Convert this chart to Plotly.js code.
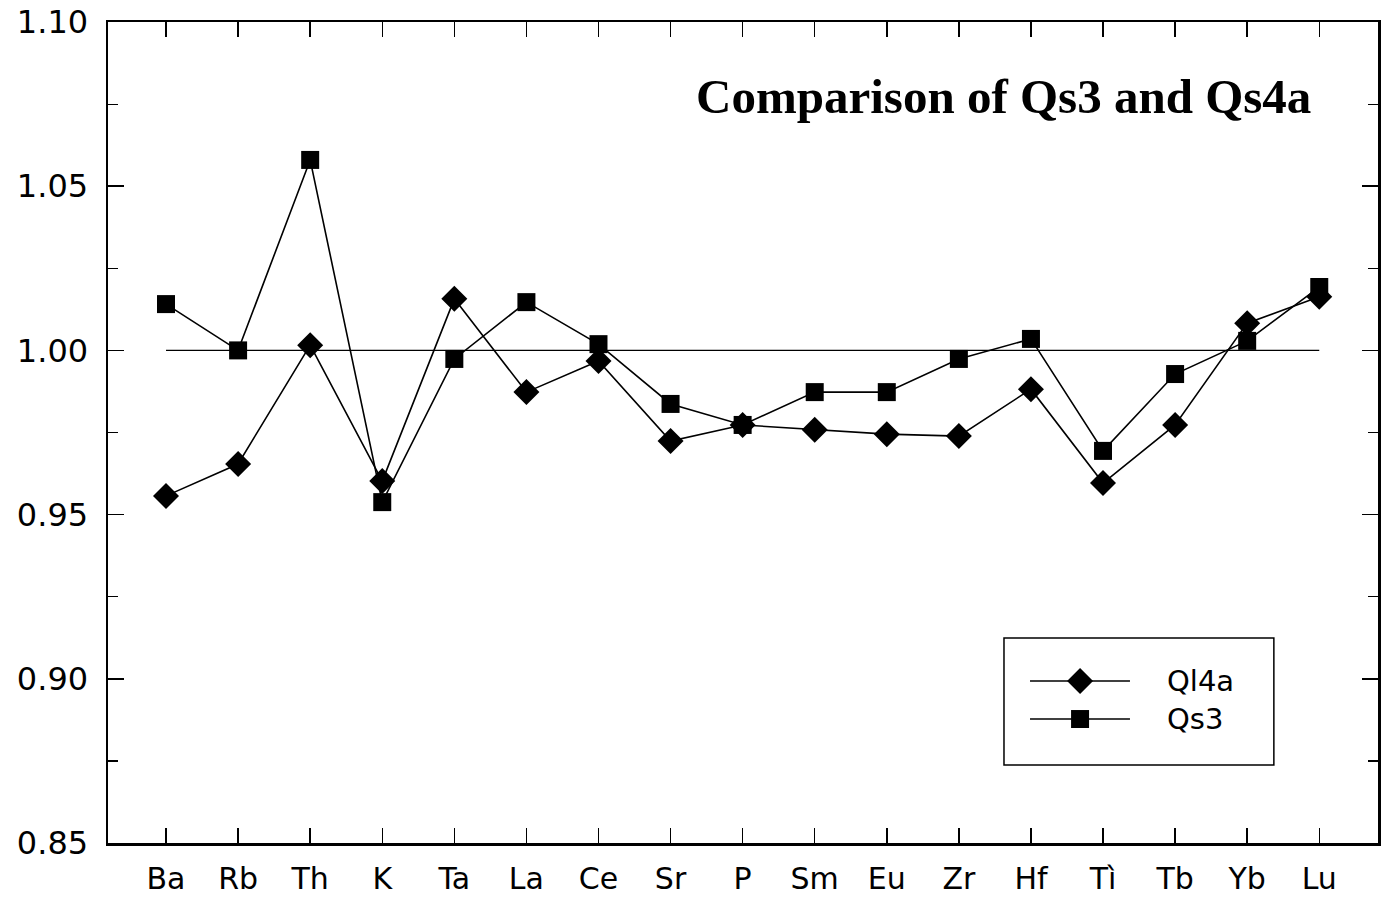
<!DOCTYPE html>
<html>
<head>
<meta charset="utf-8">
<script src="https://cdn.plot.ly/plotly-3.0.1.min.js"></script>
<style>
  html, body { margin: 0; padding: 0; background: #fff; }
  #chart { width: 1392px; height: 900px; }
</style>
</head>
<body>
<div id="chart"></div>
<script>
// Element order along the x axis
const elements = ['Ba', 'Rb', 'Th', 'K', 'Ta', 'La', 'Ce', 'Sr', 'P', 'Sm', 'Eu', 'Zr', 'Hf', 'Ti', 'Tb', 'Yb', 'Lu'];
// Displayed x tick labels (Ti carries a grave accent in the label)
const elementLabels = ['Ba', 'Rb', 'Th', 'K', 'Ta', 'La', 'Ce', 'Sr', 'P', 'Sm', 'Eu', 'Zr', 'Hf', 'Tì', 'Tb', 'Yb', 'Lu'];

// Ratio values per element
const ql4a = [0.9557, 0.9654, 1.0016, 0.9602, 1.0157, 0.9873, 0.9968, 0.9724, 0.9773, 0.9758, 0.9745, 0.9739, 0.9882, 0.9596, 0.9773, 1.0083, 1.0163];
const qs3  = [1.0141, 1.0000, 1.0580, 0.9538, 0.9974, 1.0147, 1.0019, 0.9837, 0.9773, 0.9873, 0.9873, 0.9974, 1.0035, 0.9694, 0.9928, 1.0029, 1.0193];

// Unity reference level
const unity = 1.0;

// Y axis labelled ticks
const yTickVals = [0.85, 0.90, 0.95, 1.00, 1.05, 1.10];
const yTickText = ['0.85', '0.90', '0.95', '1.00', '1.05', '1.10'];

const seriesNames = ['Ql4a', 'Qs3'];
const chartTitle = 'Comparison of Qs3 and Qs4a';

const black = '#000';
const xTickFont = { family: 'DejaVu Sans, sans-serif', size: 30, color: black };
const yTickFont = { family: 'DejaVu Sans, sans-serif', size: 32, color: black };

const traces = [
  {
    x: elements, y: elements.map(() => unity),
    type: 'scatter', mode: 'lines',
    line: { color: black, width: 1.3 },
    showlegend: false, hoverinfo: 'skip'
  },
  {
    x: elements, y: ql4a, name: seriesNames[0],
    type: 'scatter', mode: 'lines+markers',
    line: { color: black, width: 1.6 },
    marker: { symbol: 'diamond', size: 20, color: black },
    showlegend: false
  },
  {
    x: elements, y: qs3, name: seriesNames[1],
    type: 'scatter', mode: 'lines+markers',
    line: { color: black, width: 1.6 },
    marker: { symbol: 'square', size: 18, color: black },
    showlegend: false
  },
  // Key symbols, placed on an overlay axis spanning 0..1
  {
    x: [0.7654], y: [0.1973], xaxis: 'x2', yaxis: 'y2',
    type: 'scatter', mode: 'markers',
    marker: { symbol: 'diamond', size: 20, color: black },
    showlegend: false, hoverinfo: 'skip'
  },
  {
    x: [0.7654], y: [0.151], xaxis: 'x2', yaxis: 'y2',
    type: 'scatter', mode: 'markers',
    marker: { symbol: 'square', size: 18, color: black },
    showlegend: false, hoverinfo: 'skip'
  }
];

const layout = {
  width: 1392, height: 900,
  margin: { l: 108, r: 14, t: 22, b: 57 },
  paper_bgcolor: '#fff', plot_bgcolor: '#fff',
  showlegend: false,
  xaxis: {
    type: 'category',
    categoryorder: 'array', categoryarray: elements,
    tickvals: elements, ticktext: elementLabels,
    range: [-0.805, 16.815],
    showgrid: false, zeroline: false,
    showline: true, linecolor: black, linewidth: 2.5, mirror: 'allticks',
    ticks: 'inside', ticklen: 15, tickwidth: 1.5, tickcolor: black,
    tickfont: xTickFont, ticklabelstandoff: 7
  },
  yaxis: {
    range: [0.85, 1.10],
    tickvals: yTickVals, ticktext: yTickText,
    showgrid: false, zeroline: false,
    showline: true, linecolor: black, linewidth: 2.5, mirror: 'allticks',
    ticks: 'inside', ticklen: 16, tickwidth: 1.5, tickcolor: black,
    tickfont: yTickFont, ticklabelstandoff: 11,
    minor: { dtick: 0.025, tick0: 0.85, ticks: 'inside', ticklen: 10, tickwidth: 1.2, tickcolor: black, showgrid: false }
  },
  xaxis2: { overlaying: 'x', range: [0, 1], visible: false },
  yaxis2: { overlaying: 'y', range: [0, 1], visible: false },
  shapes: [
    // key box
    { type: 'rect', xref: 'paper', yref: 'paper', x0: 0.7055, x1: 0.918, y0: 0.095, y1: 0.2497,
      line: { color: black, width: 1.5 }, fillcolor: 'rgba(0,0,0,0)' },
    // key line samples
    { type: 'line', xref: 'paper', yref: 'paper', x0: 0.726, x1: 0.8047, y0: 0.1973, y1: 0.1973,
      line: { color: black, width: 1.5 } },
    { type: 'line', xref: 'paper', yref: 'paper', x0: 0.726, x1: 0.8047, y0: 0.151, y1: 0.151,
      line: { color: black, width: 1.5 } }
  ],
  annotations: [
    { text: chartTitle, xref: 'paper', yref: 'paper', x: 0.7055, y: 0.909,
      xanchor: 'center', yanchor: 'middle', showarrow: false,
      font: { family: 'Liberation Serif, Times New Roman, serif', size: 49, color: black, weight: 'bold' } },
    { text: seriesNames[0], xref: 'paper', yref: 'paper', x: 0.8323, y: 0.1973,
      xanchor: 'left', yanchor: 'middle', showarrow: false,
      font: { family: 'DejaVu Sans, sans-serif', size: 29, color: black } },
    { text: seriesNames[1], xref: 'paper', yref: 'paper', x: 0.8323, y: 0.151,
      xanchor: 'left', yanchor: 'middle', showarrow: false,
      font: { family: 'DejaVu Sans, sans-serif', size: 29, color: black } }
  ]
};

Plotly.newPlot('chart', traces, layout, { displayModeBar: false, staticPlot: true });
</script>
</body>
</html>
